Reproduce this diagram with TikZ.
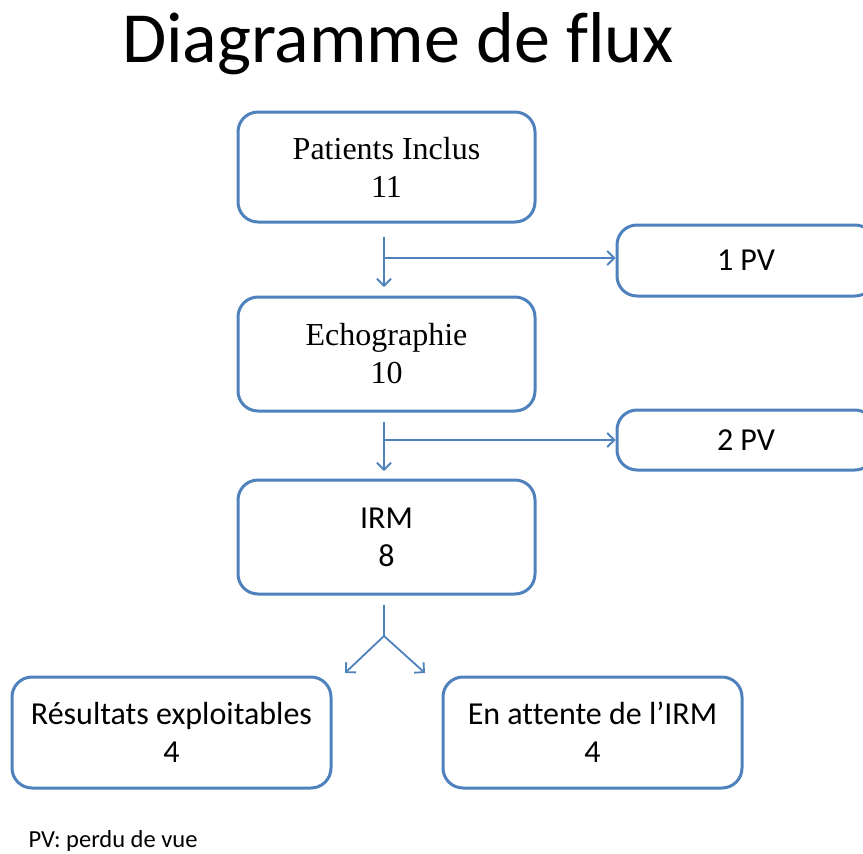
\documentclass[tikz,border=0pt]{standalone}
\usepackage{fontspec}
\setmainfont{Liberation Serif}
\newfontfamily\calibrifont[Ligatures=NoCommon]{Carlito}
\usetikzlibrary{arrows.meta}
\definecolor{obl}{RGB}{79,129,189}
\tikzset{
  box/.style={draw=obl, line width=3pt, rounded corners=20pt, fill=white, inner sep=0pt, align=center, font=\fontsize{32}{38}\selectfont},
  sbox/.style={box, font=\calibrifont\fontsize{32}{38}\selectfont},
  conn/.style={draw=obl, line width=1.8pt, -{Straight Barb[length=7pt,width=14pt,line width=1.8pt]}},
  plain/.style={draw=obl, line width=1.8pt}
}
\begin{document}
\begin{tikzpicture}[x=1pt,y=-1pt]
\useasboundingbox (0,0) rectangle (863,854);
\node[font=\calibrifont\fontsize{72}{80}\selectfont] (title) at (398,44) {Diagramme de flux};
\node[box, minimum width=297pt, minimum height=110pt] (b1) at (386.5,167) {Patients Inclus\\11};
\node[box, minimum width=297pt, minimum height=114pt] (b2) at (386.5,354) {Echographie\\10};
\node[sbox, minimum width=297pt, minimum height=114pt] (b3) at (386.5,537) {IRM\\8};
\node[sbox, minimum width=258pt, minimum height=71pt] (pv1) at (746,260.5) {1 PV};
\node[sbox, minimum width=258pt, minimum height=60pt] (pv2) at (746,440) {2 PV};
\node[sbox, minimum width=319pt, minimum height=111pt] (r1) at (171.5,732.5) {Résultats exploitables\\4};
\node[sbox, minimum width=299pt, minimum height=111pt] (r2) at (592.5,732.5) {En attente de l’IRM\\4};
\node[font=\calibrifont\fontsize{24.5}{28}\selectfont, anchor=west] (note) at (25,841) {PV: perdu de vue};
% connectors
\coordinate (t1) at (384,237);
\coordinate (e1) at (384,287);
\coordinate (j1) at (384,258);
\draw[conn] (t1) -- (e1);
\draw[conn] (j1) -- (j1 -| pv1.west);
\coordinate (t2) at (384,422);
\coordinate (e2) at (384,471);
\coordinate (j2) at (384,440);
\draw[conn] (t2) -- (e2);
\draw[conn] (j2) -- (j2 -| pv2.west);
\coordinate (t3) at (384,605);
\coordinate (sp) at (384,636);
\coordinate (a1) at (345,673);
\coordinate (a2) at (425,673);
\draw[plain] (t3) -- (sp);
\draw[conn] (sp) -- (a1);
\draw[conn] (sp) -- (a2);
\end{tikzpicture}
\end{document}
